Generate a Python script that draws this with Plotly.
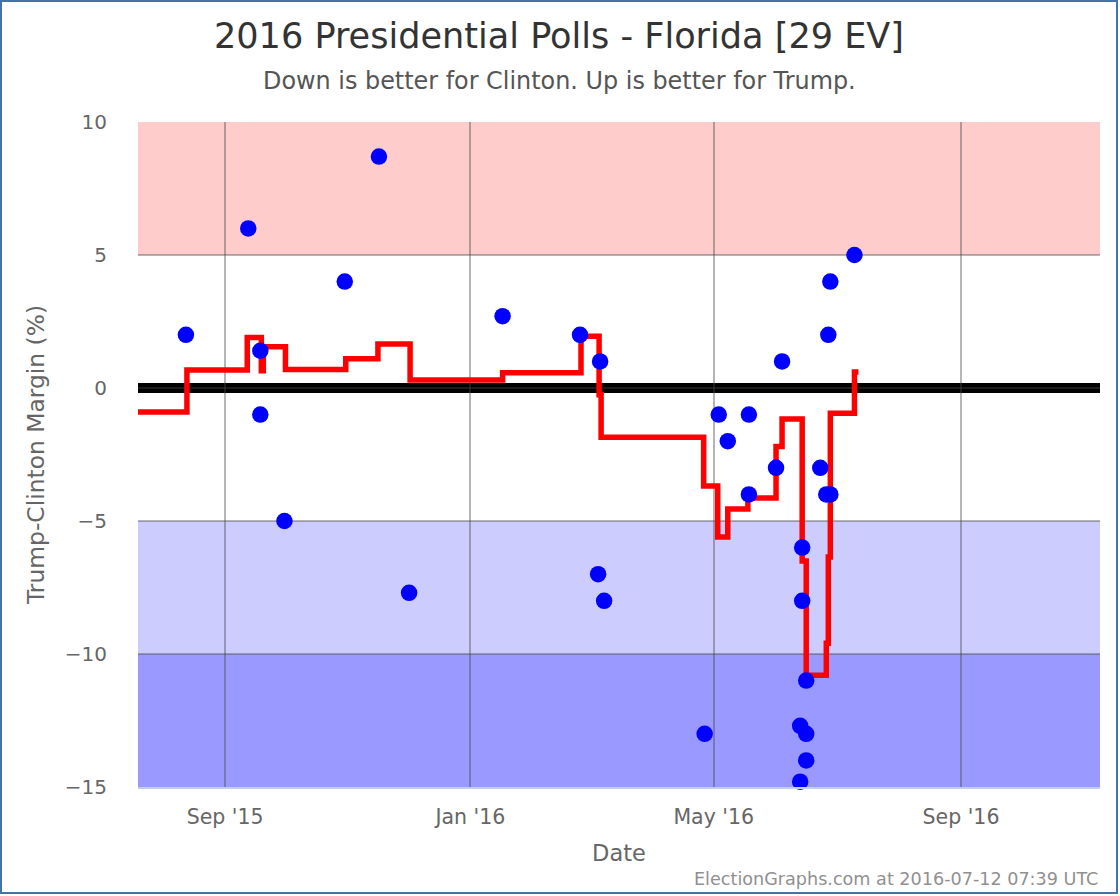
import plotly.graph_objects as go

# poll results, Trump minus Clinton
poll_dates = [
    "2015-08-12 12:00", "2015-09-12 12:00", "2015-09-18 12:00", "2015-09-18 12:00", "2015-09-30 12:00",
    "2015-10-30 12:00", "2015-11-16 12:00", "2015-12-01 12:00", "2016-01-17", "2016-02-24 12:00",
    "2016-03-04 12:00", "2016-03-05 12:00", "2016-03-07 12:00", "2016-04-26 12:00", "2016-05-03 12:00",
    "2016-05-08", "2016-05-18 12:00", "2016-05-18 12:00", "2016-06-01", "2016-06-04",
    "2016-06-13", "2016-06-13", "2016-06-14", "2016-06-14", "2016-06-16",
    "2016-06-16", "2016-06-16", "2016-06-23", "2016-06-26", "2016-06-28",
    "2016-06-27", "2016-06-28", "2016-07-10",
]
poll_margins = [
    2, 6, 1.4, -1, -5,
    4, 8.7, -7.7, 2.7, 2,
    -7, 1, -8, -13, -1,
    -2, -1, -4, -3, 1,
    -12.7, -14.8, -6, -8, -11,
    -13, -14, -3, -4, -4,
    2, 4, 5,
]

# poll average, changes only on these days
avg_dates = [
    "2015-07-19", "2015-08-13", "2015-09-12", "2015-09-19", "2015-09-20",
    "2015-10-01", "2015-10-31", "2015-11-16", "2015-12-02", "2016-01-17",
    "2016-02-25", "2016-03-05", "2016-03-06", "2016-04-26", "2016-05-03",
    "2016-05-08", "2016-05-18", "2016-06-01", "2016-06-04", "2016-06-14",
    "2016-06-16", "2016-06-26", "2016-06-27", "2016-06-28", "2016-07-10",
    "2016-07-12",
]
avg_margins = [
    -0.9, 0.68, 1.9, 0.65, 1.55,
    0.7, 1.1, 1.65, 0.3, 0.57,
    1.95, -0.25, -1.85, -3.68, -5.6,
    -4.55, -4.14, -2.2, -1.17, -6.5,
    -10.8, -9.6, -6.35, -0.95, 0.6,
    0.6,
]

x_tick_dates = ["2015-09-01", "2016-01-01", "2016-05-01", "2016-09-01"]
x_tick_labels = ["Sep '15", "Jan '16", "May '16", "Sep '16"]
y_ticks = [-15, -10, -5, 0, 5, 10]

bands = [
    (5, 10, "#ffcccc"),
    (-10, -5, "#ccccff"),
    (-15, -10, "#9999ff"),
]

FONT = "DejaVu Sans"
GRID = "rgba(70,70,70,0.4)"
WIDTH = 1118
HEIGHT = 894
LEFT, RIGHT, TOP, BOTTOM = 138, 18, 122, 107
plot_w = WIDTH - LEFT - RIGHT
plot_h = HEIGHT - TOP - BOTTOM

fig = go.Figure()

fig.add_trace(
    go.Scatter(
        x=avg_dates,
        y=avg_margins,
        mode="lines",
        line=dict(color="#ff0000", width=5.5, shape="hv"),
        cliponaxis=False,
        showlegend=False,
    )
)
fig.add_trace(
    go.Scatter(
        x=poll_dates,
        y=poll_margins,
        mode="markers",
        marker=dict(color="#0000ff", size=16.5, line=dict(width=0)),
        cliponaxis=False,
        showlegend=False,
    )
)

for y0, y1, color in bands:
    fig.add_shape(
        type="rect", xref="paper", yref="y", x0=0, x1=1, y0=y0, y1=y1,
        fillcolor=color, line_width=0, layer="below",
    )
# heavy line at zero, the grid line shows through it
fig.add_shape(
    type="line", xref="paper", yref="y", x0=0, x1=1, y0=0, y1=0,
    line=dict(color="#000000", width=10), layer="below",
)
# chart border
fig.add_shape(
    type="rect", xref="paper", yref="paper",
    x0=-(LEFT - 1) / plot_w, x1=1 + (RIGHT - 1) / plot_w,
    y0=-(BOTTOM - 1) / plot_h, y1=1 + (TOP - 1) / plot_h,
    line=dict(color="#4572a7", width=2), layer="below",
)

fig.add_annotation(
    text="Down is better for Clinton. Up is better for Trump.",
    xref="paper", yref="paper", x=(559 - LEFT) / plot_w, y=1 + (TOP - 81) / plot_h,
    showarrow=False, font=dict(size=23.9, color="#555555"), yanchor="middle",
)
fig.add_annotation(
    text="ElectionGraphs.com at 2016-07-12 07:39 UTC",
    xref="paper", yref="paper", x=1, y=-(879 - TOP - plot_h) / plot_h,
    xanchor="right", yanchor="middle", showarrow=False,
    font=dict(size=17.6, color="#909090"),
)

fig.update_layout(
    width=WIDTH,
    height=HEIGHT,
    margin=dict(l=LEFT, r=RIGHT, t=TOP, b=BOTTOM, autoexpand=False),
    paper_bgcolor="#ffffff",
    plot_bgcolor="#ffffff",
    font=dict(family=FONT, color="#666666"),
    title=dict(
        text="2016 Presidential Polls - Florida [29 EV]",
        x=559 / WIDTH, xanchor="center", y=1 - 36 / HEIGHT, yanchor="middle",
        font=dict(size=35.1, color="#333333"),
    ),
    showlegend=False,
)
fig.update_xaxes(
    range=["2015-07-19 16:00", "2016-11-09 03:00"],
    tickvals=x_tick_dates,
    ticktext=x_tick_labels,
    tickfont=dict(size=20.5, color="#666666"),
    ticklabelstandoff=10,
    showgrid=True,
    gridcolor=GRID,
    gridwidth=2,
    zeroline=False,
    showline=True,
    linecolor="#c0d0e0",
    linewidth=2,
    ticks="",
    title=dict(text="Date", font=dict(size=22.5, color="#666666"), standoff=18),
)
fig.update_yaxes(
    range=[-15, 10],
    tickvals=y_ticks,
    tickfont=dict(size=20, color="#666666"),
    showgrid=True,
    gridcolor=GRID,
    gridwidth=2,
    zeroline=False,
    ticks="",
    ticklabelstandoff=30,
    title=dict(text="Trump-Clinton Margin (%)", font=dict(size=23.4, color="#666666"), standoff=13),
)

fig.write_html(
    "out.html",
    config={"displayModeBar": False},
    post_script="document.body.style.margin = '0';",
)
